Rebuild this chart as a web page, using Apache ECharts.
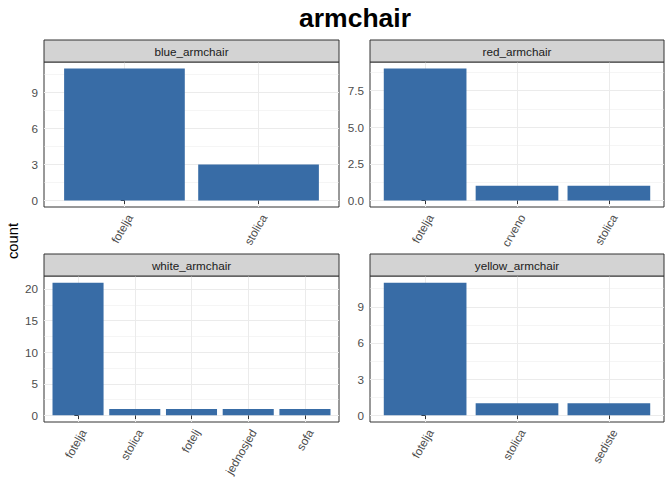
<!DOCTYPE html>
<html><head><meta charset="utf-8">
<script src="https://cdn.jsdelivr.net/npm/echarts@6/dist/echarts.min.js"></script>
<style>html,body{margin:0;padding:0;background:#fff}#c{width:672px;height:480px}</style>
</head><body><div id="c"></div>
<script>
// ---- data ----
const titleText = 'armchair';
const yTitle = 'count';
const panelNames = ['blue_armchair', 'red_armchair', 'white_armchair', 'yellow_armchair'];
const blueCats = ['fotelja', 'stolica'];
const blueCounts = [11, 3];
const redCats = ['fotelja', 'crveno', 'stolica'];
const redCounts = [9, 1, 1];
const whiteCats = ['fotelja', 'stolica', 'fotelj', 'jednosjed', 'sofa'];
const whiteCounts = [21, 1, 1, 1, 1];
const yellowCats = ['fotelja', 'stolica', 'sediste'];
const yellowCounts = [11, 1, 1];
const blueTicks = [0, 3, 6, 9];
const redTicks = [0, 2.5, 5, 7.5];
const whiteTicks = [0, 5, 10, 15, 20];
const yellowTicks = [0, 3, 6, 9];

// ---- layout / style ----
const FONT = '"Liberation Sans", Arial, Helvetica, sans-serif';
const BAR = '#386ca6';
const GRIDC = '#ebebeb';
const EDGE = '#333333';
const layouts = [
  {l: 44, t: 62, w: 295, h: 145},
  {l: 370, t: 62, w: 294, h: 145},
  {l: 44, t: 276, w: 295, h: 146},
  {l: 370, t: 276, w: 294, h: 146}
];
const STRIP_H = 22;
const panels = [
  {cats: blueCats, counts: blueCounts, ticks: blueTicks},
  {cats: redCats, counts: redCounts, ticks: redTicks},
  {cats: whiteCats, counts: whiteCounts, ticks: whiteTicks},
  {cats: yellowCats, counts: yellowCounts, ticks: yellowTicks}
];

const grid = [], xAxis = [], yAxis = [], series = [], graphic = [];
panels.forEach((p, i) => {
  const L = layouts[i];
  const n = p.cats.length;
  const dmax = Math.max(...p.counts);
  const ymin = -0.05 * dmax, ymax = 1.05 * dmax;
  const step = p.ticks[1] - p.ticks[0];
  const minors = [];
  for (let v = p.ticks[0] - step / 2; v <= ymax; v += step) if (v >= ymin) minors.push(v);
  const dec = p.ticks.some(v => Math.round(v) !== v) ? 1 : 0;
  const idx = p.cats.map((c, k) => k);

  grid.push({left: L.l, top: L.t, width: L.w, height: L.h, show: true,
    borderColor: EDGE, borderWidth: 1, backgroundColor: '#fff', containLabel: false});
  xAxis.push({gridIndex: i, type: 'value', min: -0.6, max: n - 0.4,
    axisLine: {show: false},
    axisTick: {show: true, customValues: idx, length: 3.7, lineStyle: {color: EDGE, width: 1}},
    axisLabel: {customValues: idx, formatter: v => p.cats[Math.round(v)], rotate: 60,
      fontSize: 11.7, color: '#4d4d4d', fontFamily: FONT, margin: 5, verticalAlign: 'top'},
    splitLine: {show: true, lineStyle: {color: GRIDC, width: 1}}
  });
  yAxis.push({gridIndex: i, type: 'value', min: ymin, max: ymax, position: 'left',
    axisLine: {show: false},
    axisTick: {show: true, customValues: p.ticks, length: 3.7, lineStyle: {color: EDGE, width: 1}},
    axisLabel: {customValues: p.ticks, formatter: v => Number(v).toFixed(dec),
      fontSize: 11.7, color: '#4d4d4d', fontFamily: FONT, margin: 6},
    splitLine: {show: true, lineStyle: {color: GRIDC, width: 1}}
  });
  yAxis.push({gridIndex: i, type: 'value', min: ymin, max: ymax, position: 'left',
    axisLine: {show: false},
    axisTick: {show: false, customValues: minors},
    axisLabel: {show: false, customValues: minors},
    splitLine: {show: true, lineStyle: {color: GRIDC, width: 0.5}}
  });
  series.push({type: 'bar', xAxisIndex: i, yAxisIndex: 2 * i,
    data: p.counts.map((v, k) => [k, v]),
    barWidth: 0.9 * L.w / (n + 0.2),
    itemStyle: {color: BAR}, silent: true, z: 3});

  graphic.push({type: 'rect', shape: {x: L.l, y: L.t - STRIP_H, width: L.w, height: STRIP_H},
    style: {fill: '#d3d3d3', stroke: EDGE, lineWidth: 1}, z: 10});
  graphic.push({type: 'text', x: L.l + L.w / 2, y: L.t - STRIP_H / 2,
    style: {text: panelNames[i], fill: '#1a1a1a', font: '11.7px ' + FONT,
      textAlign: 'center', textVerticalAlign: 'middle'}, z: 11});
});

graphic.push({type: 'text', x: 355, y: 18,
  style: {text: titleText, fill: '#000', font: 'bold 26.5px ' + FONT,
    textAlign: 'center', textVerticalAlign: 'middle'}, z: 11});
graphic.push({type: 'text', x: 13, y: 241, rotation: Math.PI / 2,
  style: {text: yTitle, fill: '#000', font: '14.7px ' + FONT,
    textAlign: 'center', textVerticalAlign: 'middle'}, z: 11});

const chart = echarts.init(document.getElementById('c'), null, {renderer: 'svg'});
chart.setOption({
  animation: false,
  backgroundColor: '#fff',
  grid, xAxis, yAxis, series, graphic
});
</script>
</body></html>
